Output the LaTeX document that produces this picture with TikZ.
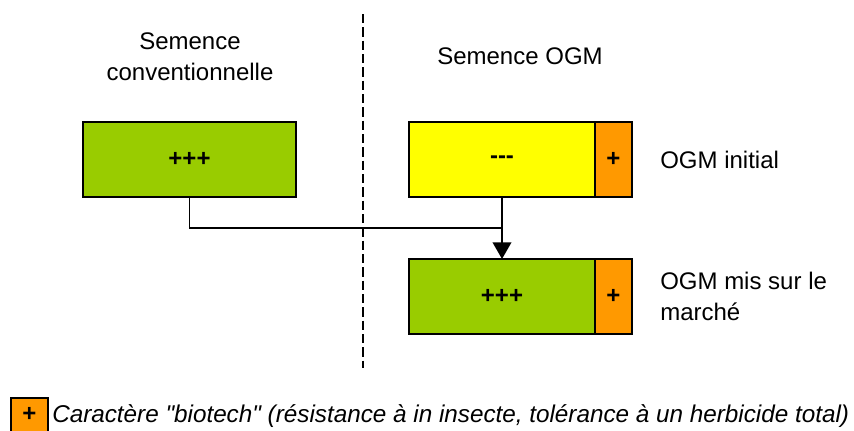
\documentclass[tikz,border=0pt]{standalone}
\usepackage{fontspec}
\setmainfont{Liberation Sans}[Ligatures=TeXOff]
\usepackage{tikz}
\usetikzlibrary{positioning,arrows.meta,calc}
\definecolor{leafgreen}{HTML}{99CC00}
\definecolor{gmoyellow}{HTML}{FFFF00}
\definecolor{traitorange}{HTML}{FF9900}

\begin{document}
\begin{tikzpicture}[x=0.75pt, y=-0.75pt,
  every node/.style={font=\fontsize{18}{23}\selectfont},
  seed/.style={draw, line width=1.1pt, outer sep=0pt, inner sep=0pt, minimum height=56.25pt, font=\fontsize{18}{23}\selectfont\bfseries},
  trait/.style={seed, fill=traitorange, minimum width=27.75pt},
  link/.style={line width=1.2pt},
  arr/.style={link, -{Triangle[length=12.5pt, width=14pt]}}]
\useasboundingbox (0,0) rectangle (854,430);
\node[seed, fill=leafgreen, minimum width=159.75pt] (conv) at (189.5,159.5) {+++};
\node[seed, fill=gmoyellow, minimum width=139.5pt] (gmo) at (502,159.5) {---};
\node[trait, right=0pt of gmo] (gmotrait) {+};
\node[seed, fill=leafgreen, minimum width=139.5pt] (market) at (502,296.5) {+++};
\node[trait, right=0pt of market] (markettrait) {+};
% separation between both columns
\draw[line width=1pt, dash pattern=on 7pt off 3pt] (363,14) coordinate (sepTop) -- (363,368) coordinate (sepBot);
\node[align=center] (convTitle) at (190,57) {Semence\\conventionnelle};
\node (gmoTitle) at (520,56) {Semence OGM};
\node[anchor=west, inner sep=0pt, right=21pt of gmotrait] (gmoLabel) {OGM initial};
\node[anchor=west, inner sep=0pt, align=left, right=21pt of markettrait] (marketLabel) {OGM mis sur le\\marché};
\coordinate (join) at ($(gmo.south)!0.5!(market.north)$);
\draw[link] (conv.south) |- (join);
\draw[arr] (gmo.south) -- (market.north);
% legend
\node[trait, minimum width=27.75pt, minimum height=25pt, anchor=north west] (key) at (11,398) {+};
\node[inner sep=0pt, anchor=west, font=\fontsize{18.2}{23}\selectfont\itshape] (keyText) at (52,416) {Caractère "biotech" (résistance à in insecte, tolérance à un herbicide total)};
\end{tikzpicture}
\end{document}
